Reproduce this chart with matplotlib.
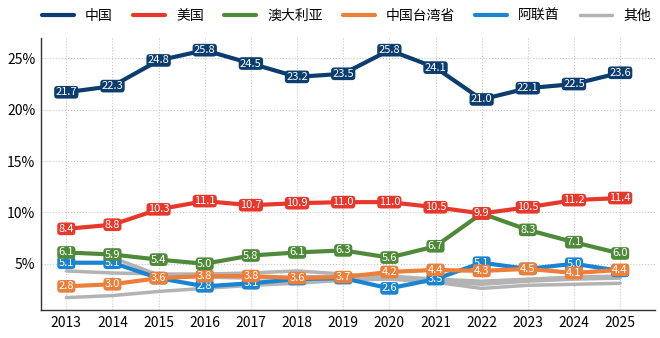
import matplotlib
matplotlib.use("Agg")
import matplotlib.pyplot as plt
import numpy as np

plt.rcParams['font.family'] = ['Noto Sans CJK SC', 'DejaVu Sans']

years = [2013, 2014, 2015, 2016, 2017, 2018, 2019, 2020, 2021, 2022, 2023, 2024, 2025]
china = [21.7, 22.3, 24.8, 25.8, 24.5, 23.2, 23.5, 25.8, 24.1, 21.0, 22.1, 22.5, 23.6]
usa = [8.4, 8.8, 10.3, 11.1, 10.7, 10.9, 11.0, 11.0, 10.5, 9.9, 10.5, 11.2, 11.4]
australia = [6.1, 5.9, 5.4, 5.0, 5.8, 6.1, 6.3, 5.6, 6.7, 9.9, 8.3, 7.1, 6.0]
taiwan = [2.8, 3.0, 3.6, 3.8, 3.8, 3.6, 3.7, 4.2, 4.4, 4.3, 4.5, 4.1, 4.4]
uae = [5.1, 5.1, 3.6, 2.8, 3.1, 3.5, 3.6, 2.6, 3.5, 5.1, 4.5, 5.0, 4.3]
others1 = [4.3, 4.1, 4.0, 4.0, 4.1, 4.3, 4.0, 3.6, 3.3, 3.0, 3.3, 3.5, 3.6]
others2 = [1.7, 1.9, 2.3, 2.6, 2.9, 3.1, 3.4, 3.5, 3.2, 2.6, 2.9, 3.0, 3.1]
others3 = [np.nan, 5.6, 3.9, 3.7, 3.6, 3.7, 3.8, 3.8, 3.5, 3.3, 3.5, 3.7, 3.8]

series = [
    ("中国", china, "#0b3d6e"),
    ("美国", usa, "#e8372b"),
    ("澳大利亚", australia, "#4f8a3a"),
    ("中国台湾省", taiwan, "#ec7f3a"),
    ("阿联酋", uae, "#1b84d1"),
]
gray = "#b3b3b3"

fig = plt.figure(figsize=(6.6, 3.38), dpi=100)
ax = fig.add_axes([0.062, 0.083, 0.93, 0.805])

for i, g in enumerate([others1, others2, others3]):
    ax.plot(years, g, color=gray, lw=2.5, zorder=2, solid_capstyle='round',
            label="其他" if i == 0 else None)

n = len(series)
for k, (name, vals, col) in enumerate(series):
    z = 3 + 2 * (n - k)
    ax.plot(years, vals, color=col, lw=3, zorder=z, label=name,
            solid_capstyle='round')
    for x, v in zip(years, vals):
        ax.text(x, v, f"{v:.1f}", ha='center', va='center', fontsize=8,
                color='white', zorder=z + 1,
                bbox=dict(boxstyle='round,pad=0.12,rounding_size=0.3', fc=col, ec='none'))

ax.set_xlim(2012.45, 2025.75)
ax.set_ylim(0.5, 27)
ax.set_xticks(years)
ax.set_yticks([5, 10, 15, 20, 25])
ax.set_yticklabels([f"{t}%" for t in [5, 10, 15, 20, 25]])
ax.tick_params(labelsize=10, length=0, pad=4)
ax.grid(True, linestyle=':', color='#c8c8c8', lw=0.8)
ax.set_axisbelow(True)
for s in ['top', 'right']:
    ax.spines[s].set_visible(False)
for s in ['left', 'bottom']:
    ax.spines[s].set_color('#333333')
    ax.spines[s].set_linewidth(1)

handles, labels = ax.get_legend_handles_labels()
order = ["中国", "美国", "澳大利亚", "中国台湾省", "阿联酋", "其他"]
hmap = dict(zip(labels, handles))
leg = fig.legend([hmap[o] for o in order], order, loc='upper center', ncol=6,
                 bbox_to_anchor=(0.525, 1.01), frameon=False, fontsize=10,
                 handlelength=2.3, columnspacing=1.45, handletextpad=0.8)

fig.savefig("out.png", dpi=100)
